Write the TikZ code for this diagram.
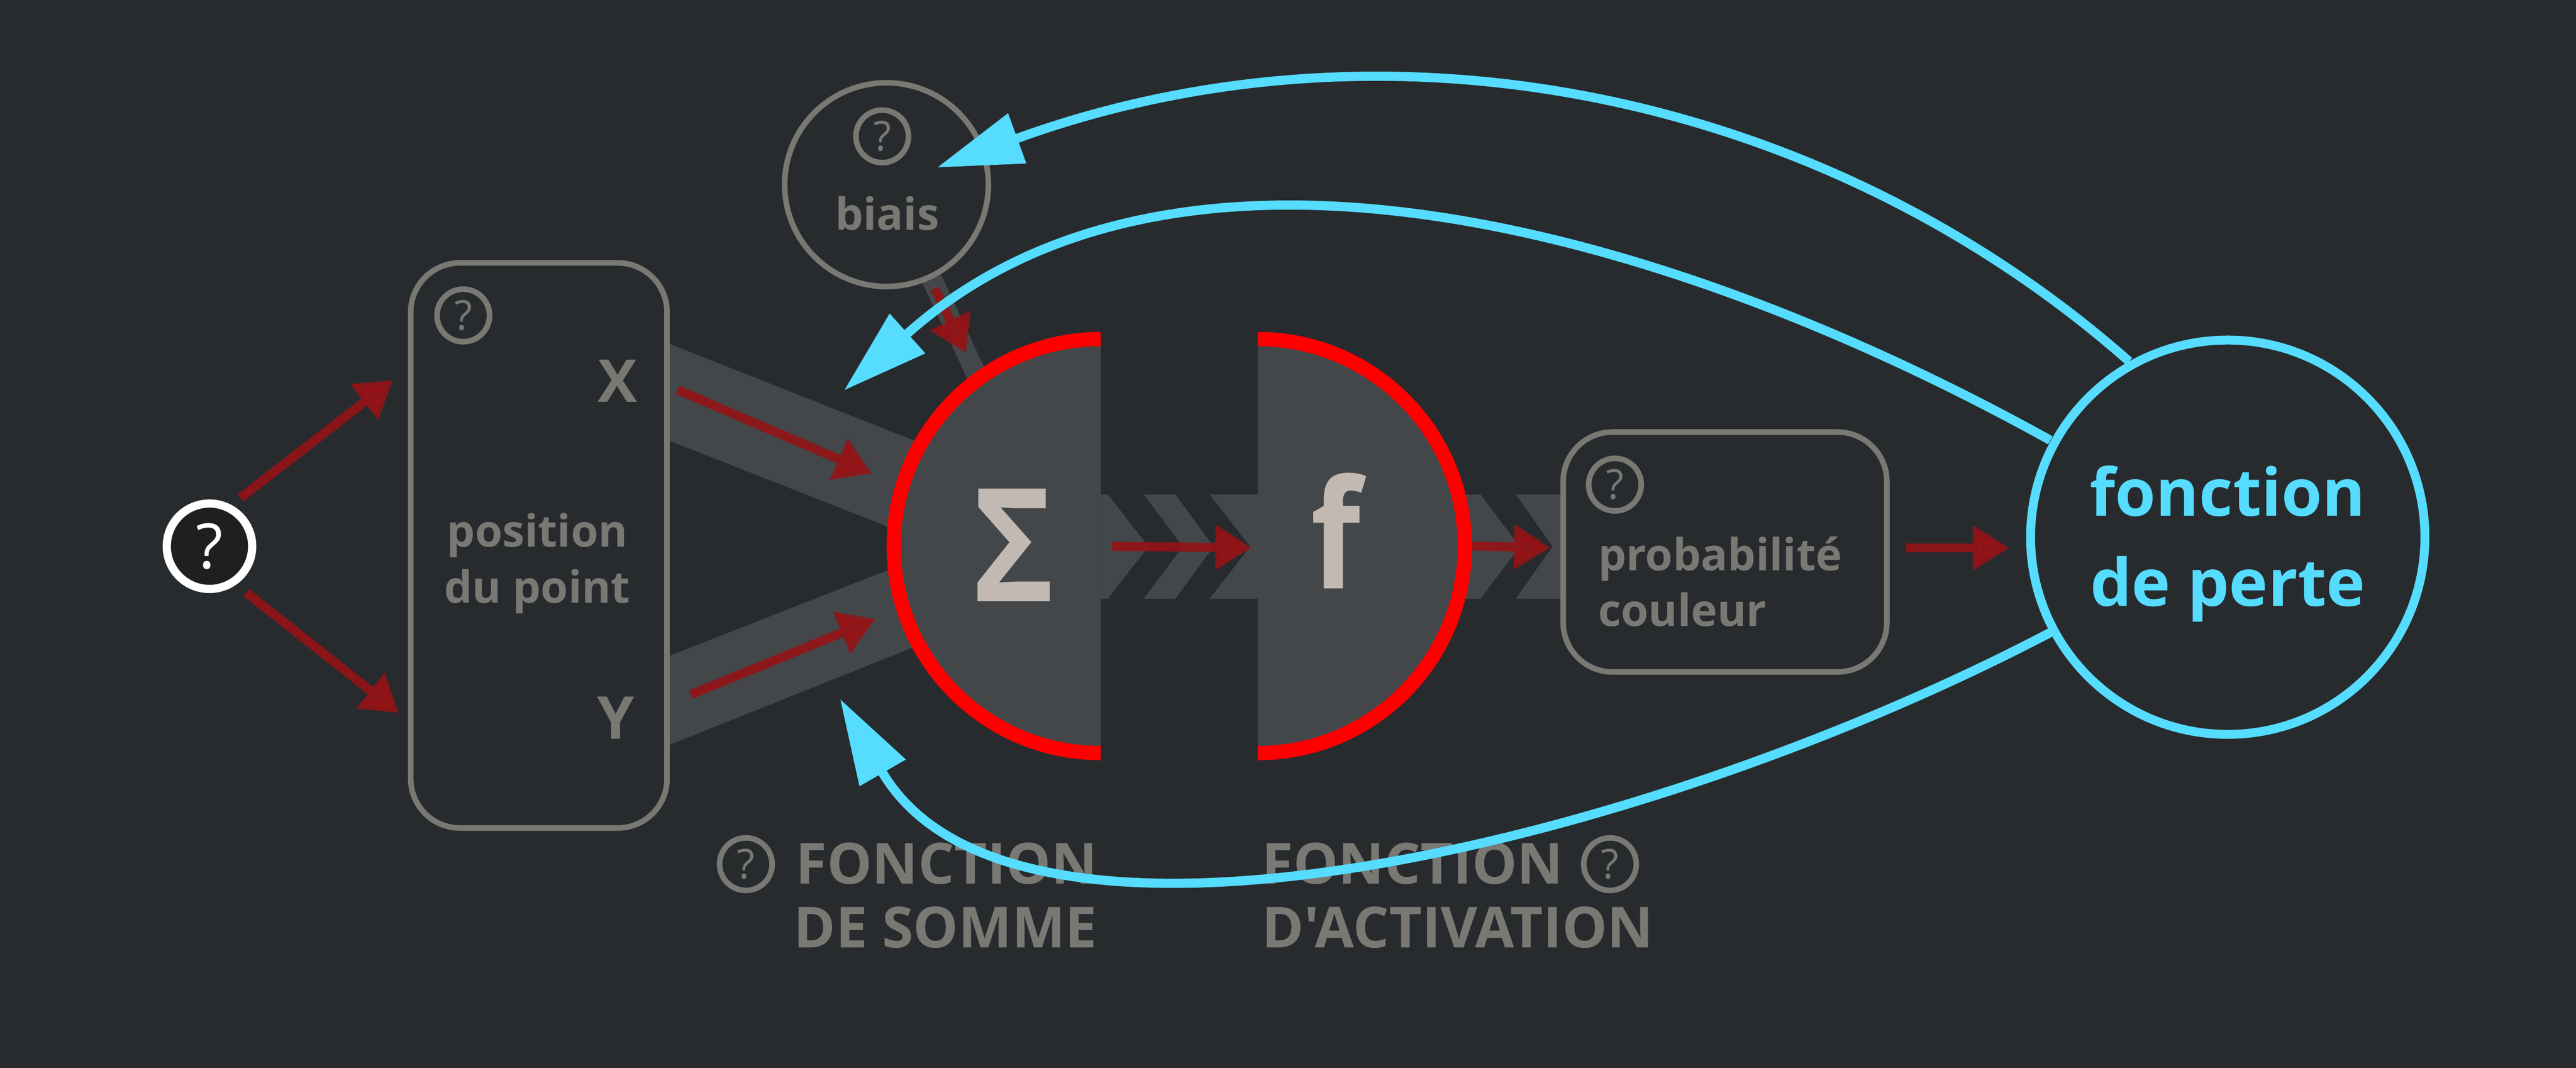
\documentclass[tikz,border=0pt]{standalone}
\usepackage{fontspec}
\setmainfont{Open Sans}
\newfontfamily\plainfont{Open Sans}
\usetikzlibrary{arrows.meta}
\definecolor{bgc}{RGB}{40,43,46}
\definecolor{bandc}{RGB}{67,71,74}
\definecolor{greyc}{RGB}{122,120,115}
\definecolor{redc}{RGB}{149,19,22}
\definecolor{bluec}{RGB}{85,220,255}
\definecolor{symc}{RGB}{194,186,178}
\definecolor{darkc}{RGB}{30,31,33}
\newcommand{\fsz}[2]{\fontsize{#1}{#2}\selectfont}
\tikzset{
  x=1pt,y=1pt,
  outline/.style={draw=greyc,line width=3.4pt},
  band/.style={fill=bandc,draw=none},
  flow/.style={draw=redc,fill=redc,opacity=0.9,line width=5.5pt,-{Triangle[length=22pt,width=26pt]}},
  loss/.style={draw=bluec,line width=5.6pt,-{Triangle[length=52pt,width=31pt]}},
  helpicon/.style={circle,draw=greyc,line width=3.4pt,minimum size=32pt,inner sep=0pt,text=greyc,font=\fsz{25}{25}},
  label/.style={text=greyc,font=\fsz{27}{34}\bfseries,inner sep=0pt},
  title/.style={text=greyc,font=\fsz{34.5}{39}\bfseries,inner sep=0pt},
  hemi/.style={draw=red,line width=8.7pt},
}
\begin{document}
\begin{tikzpicture}
\useasboundingbox (0,0) rectangle (1568,-650.07);
\fill[bgc] (0,0) rectangle (1568,-650.07);
% bands
\fill[band] (407.5,-209.3) -- (557,-268.4) -- (540.8,-320.7) -- (407.5,-268.3) -- cycle;
\fill[band] (407.5,-399.2) -- (540.8,-346.9) -- (557,-393.6) -- (407.5,-453.4) -- cycle;
\fill[band] (560.9,-171.1) -- (573,-167.4) -- (599,-223.5) -- (589,-231) -- cycle;
\fill[band] (670,-301) -- (674.4,-301) -- (699,-332.7) -- (674.4,-364.4) -- (670,-364.4) -- cycle;
\fill[band] (696.3,-301) -- (715.4,-301) -- (738.7,-332.7) -- (715.4,-364.4) -- (696.3,-364.4) -- (719.9,-332.7) -- cycle;
\fill[band] (736.3,-301) -- (770,-301) -- (770,-364.4) -- (736.3,-364.4) -- (761,-332.7) -- cycle;
\fill[band] (870,-301) -- (901.2,-301) -- (925,-332.7) -- (901.2,-364.4) -- (870,-364.4) -- cycle;
\fill[band] (922.7,-301) -- (951,-301) -- (951,-364.4) -- (922.7,-364.4) -- (945,-332.7) -- cycle;
% half discs
\fill[band] (670,-206.4) arc[start angle=90,end angle=270,radius=126] -- cycle;
\draw[hemi] (670,-206.4) arc[start angle=90,end angle=270,radius=126];
\fill[band] (765.6,-206.4) arc[start angle=90,end angle=-90,radius=126] -- cycle;
\draw[hemi] (765.6,-206.4) arc[start angle=90,end angle=-90,radius=126];
\node[xscale=0.88] (sigma) at (617,-332) {\color{symc}\fsz{96}{96}\bfseries Σ};
\node[xscale=0.85] (ef) at (813,-323) {\color{symc}\fsz{92}{92}\bfseries f};
% question start
\node[circle,draw=white,fill=darkc,line width=5pt,minimum size=52pt,inner sep=0pt,text=white,font=\fsz{38}{38}] (start) at (127.5,-332.5) {?};
% position box
\node[outline,rounded corners=30pt,minimum width=156pt,minimum height=344pt,inner sep=0pt] (posbox) at (328,-332) {};
\node[helpicon] (helppos) at (282,-192) {?};
\node[text=greyc,font=\fsz{36}{36}\bfseries,inner sep=0pt] (xlab) at (376,-232) {X};
\node[text=greyc,font=\fsz{36}{36}\bfseries,inner sep=0pt] (ylab) at (375,-437) {Y};
\node[label,align=center] (poslab) at (327,-343) {position\\du point};
% biais
\node[circle,outline,minimum size=124pt,inner sep=0pt] (biais) at (539.6,-112.4) {};
\node[helpicon] (helpbiais) at (537,-83) {?};
\node[label] (biaislab) at (540,-130) {biais};
% proba
\node[outline,rounded corners=30pt,minimum width=197pt,minimum height=146pt,inner sep=0pt] (probbox) at (1050,-336) {};
\node[helpicon] (helpprob) at (983,-295) {?};
\node[label,align=left] (problab) at (1047,-354) {probabilité\\couleur};
% titles
\node[helpicon] (helpsum) at (454,-526) {?};
\node[title,align=right,anchor=east] (sumlab) at (668,-545) {FONCTION\\DE SOMME};
\node[helpicon] (helpact) at (980,-526) {?};
\node[title,align=left,anchor=west] (actlab) at (768,-545) {FONCTION\\{\plainfont\bfseries D'ACTIVATION}};
% loss
\node[circle,draw=bluec,line width=5.4pt,minimum size=240pt,inner sep=0pt] (loss) at (1356,-327) {};
\node[text=bluec,inner sep=0pt,align=center,font=\fsz{40}{54.6}\bfseries] (losslab) at (1356,-331) {fonction\\de perte};
% red connectors
\coordinate (a1s) at (146.3,-303.1); \coordinate (a1e) at (239.1,-231.3);
\coordinate (a2s) at (149.9,-360.7); \coordinate (a2e) at (242.8,-434);
\coordinate (a3s) at (412.4,-237.3); \coordinate (a3e) at (530.7,-288.2);
\coordinate (a4s) at (420.5,-422.8); \coordinate (a4e) at (532.7,-376.8);
\coordinate (a5s) at (569,-175.6);   \coordinate (a5e) at (588,-214.9);
\coordinate (a6s) at (676.8,-332.6); \coordinate (a6e) at (761.8,-333.4);
\coordinate (a7s) at (895.8,-332.4); \coordinate (a7e) at (943.6,-333.4);
\coordinate (a8s) at (1160.3,-333.5); \coordinate (a8e) at (1222.9,-333.5);
\foreach \s/\e in {a1s/a1e,a2s/a2e,a3s/a3e,a4s/a4e,a5s/a5e,a6s/a6e,a7s/a7e,a8s/a8e}
  \draw[flow] (\s) -- (\e);
% blue connectors
\coordinate (la) at (1296,-220); \coordinate (ta) at (570.3,-102);
\coordinate (lb) at (1248,-268); \coordinate (tb) at (513.7,-237.7);
\coordinate (lc) at (1248,-385); \coordinate (tc) at (511.3,-425.4);
\draw[loss] (la) .. controls (1110,-56) and (845,-2) .. (ta);
\draw[loss] (lb) .. controls (1010,-136) and (715,-57) .. (tb);
\draw[loss] (lc) .. controls (1000,-515) and (616,-607) .. (tc);
\end{tikzpicture}
\end{document}
